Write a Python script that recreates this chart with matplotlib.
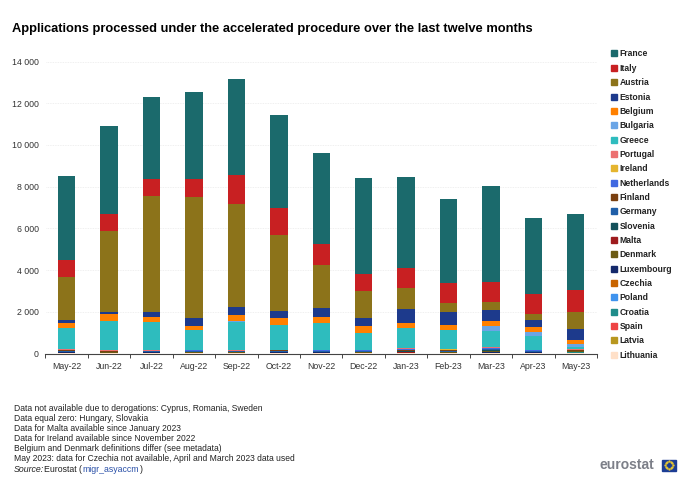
import matplotlib
matplotlib.use('Agg')
import matplotlib.pyplot as plt
import numpy as np
from matplotlib.lines import Line2D
from matplotlib.patches import Rectangle

plt.rcParams['font.family'] = ['Liberation Sans', 'DejaVu Sans']

months = ['May-22', 'Jun-22', 'Jul-22', 'Aug-22', 'Sep-22', 'Oct-22', 'Nov-22',
          'Dec-22', 'Jan-23', 'Feb-23', 'Mar-23', 'Apr-23', 'May-23']

# values, bottom of the stack first
lithuania = [3, 3, 3, 3, 3, 3, 3, 3, 3, 3, 3, 3, 3]
latvia = [3, 3, 3, 3, 3, 3, 3, 3, 3, 3, 3, 3, 40]
spain = [4, 4, 4, 4, 4, 4, 4, 4, 4, 4, 4, 4, 4]
croatia = [4, 4, 4, 4, 4, 4, 4, 4, 4, 4, 4, 4, 4]
poland = [4, 4, 4, 4, 4, 4, 4, 4, 4, 4, 4, 4, 4]
czechia = [6, 6, 6, 6, 6, 6, 6, 6, 6, 6, 6, 6, 6]
luxembourg = [35, 5, 30, 5, 5, 50, 35, 5, 10, 5, 45, 30, 25]
denmark = [10, 30, 5, 30, 30, 5, 5, 30, 10, 30, 35, 5, 15]
malta = [0, 0, 0, 0, 0, 0, 0, 0, 45, 15, 5, 5, 5]
slovenia = [25, 5, 15, 5, 10, 15, 20, 10, 10, 15, 55, 15, 5]
germany = [40, 20, 25, 36, 40, 40, 35, 30, 40, 45, 45, 35, 30]
finland = [21, 16, 16, 20, 11, 16, 16, 11, 16, 11, 11, 11, 9]
netherlands = [30, 30, 15, 35, 15, 20, 25, 50, 50, 45, 30, 30, 15]
ireland = [0, 0, 0, 0, 0, 0, 0, 10, 10, 10, 10, 10, 25]
portugal = [25, 30, 15, 20, 10, 20, 15, 20, 55, 25, 30, 25, 30]
greece = [1010, 1400, 1365, 965, 1385, 1190, 1285, 790, 935, 915, 780, 670, 90]
bulgaria = [10, 10, 10, 10, 10, 10, 10, 10, 10, 10, 230, 160, 150]
belgium = [240, 320, 220, 190, 300, 310, 270, 340, 225, 230, 250, 240, 200]
estonia = [160, 120, 240, 370, 380, 330, 450, 370, 670, 600, 530, 360, 510]
austria = [2020, 3840, 5570, 5790, 4930, 3670, 2060, 1300, 1040, 420, 370, 280, 810]
italy = [850, 850, 800, 850, 1400, 1300, 1000, 800, 950, 1000, 1000, 950, 1070]
france = [4000, 4200, 3950, 4200, 4600, 4450, 4350, 4600, 4350, 4000, 4600, 3650, 3650]

series = [
    ('Lithuania', lithuania, '#FFE0C8'),
    ('Latvia', latvia, '#B8971F'),
    ('Spain', spain, '#EE4444'),
    ('Croatia', croatia, '#1F8C8A'),
    ('Poland', poland, '#3F93EE'),
    ('Czechia', czechia, '#C86400'),
    ('Luxembourg', luxembourg, '#14296B'),
    ('Denmark', denmark, '#6B5A14'),
    ('Malta', malta, '#9E1B1E'),
    ('Slovenia', slovenia, '#13505A'),
    ('Germany', germany, '#1F5FA8'),
    ('Finland', finland, '#7A4010'),
    ('Netherlands', netherlands, '#4169E1'),
    ('Ireland', ireland, '#E5B52F'),
    ('Portugal', portugal, '#EC7070'),
    ('Greece', greece, '#2EBCBE'),
    ('Bulgaria', bulgaria, '#6AA5E6'),
    ('Belgium', belgium, '#FF8000'),
    ('Estonia', estonia, '#1D3A8C'),
    ('Austria', austria, '#8C731A'),
    ('Italy', italy, '#C82022'),
    ('France', france, '#1B6A6C'),
]

notes = [
    'Data not available due to derogations: Cyprus, Romania, Sweden',
    'Data equal zero: Hungary, Slovakia',
    'Data for Malta available since January 2023',
    'Data for Ireland available since November 2022',
    'Belgium and Denmark definitions differ (see metadata)',
    'May 2023: data for Czechia not available, April and March 2023 data used',
]

W, H = 700, 483
fig = plt.figure(figsize=(W / 100, H / 100), dpi=100)
ax = fig.add_axes([45.5 / W, 1 - 353.5 / H, 551.5 / W, 292 / H])

x = np.arange(len(months))
bottom = np.zeros(len(months))
for name, values, color in series:
    ax.bar(x, values, 0.41, bottom=bottom, color=color, zorder=3)
    bottom += np.array(values)

ax.set_xlim(-0.5, len(months) - 0.5)
ax.set_ylim(0, 14000)
ax.set_yticks(np.arange(0, 14001, 2000))
ax.set_yticklabels([f'{v:,}'.replace(',', ' ') for v in range(0, 14001, 2000)],
                   fontsize=6.3, color='#333333')
ax.set_xticks(x)
ax.set_xticklabels(months, fontsize=6.3, color='#333333')
ax.set_xticks(np.arange(-0.5, len(months)), minor=True)
ax.tick_params(axis='x', which='major', length=0, pad=6)
ax.tick_params(axis='x', which='minor', length=3, width=0.7, color='#444444')
ax.tick_params(axis='y', length=0, pad=5)
ax.grid(axis='y', color='#EBEBEB', lw=0.6, ls=(0, (1, 1)), zorder=0)
for s in ['top', 'left', 'right']:
    ax.spines[s].set_visible(False)
ax.spines['bottom'].set_color('#444444')
ax.spines['bottom'].set_linewidth(0.8)

fig.text(12 / W, 1 - 29 / H, 'Applications processed under the accelerated procedure over the last twelve months',
         fontsize=9.3, fontweight='bold', color='black', va='center')

handles = [Line2D([], [], marker='s', ls='', color=c, markersize=3.8) for _, _, c in series[::-1]]
labels = [n for n, _, _ in series[::-1]]
fig.legend(handles, labels, loc='upper left', bbox_to_anchor=(609 / W, 1 - 49.5 / H), frameon=False,
           prop={'size': 6.2, 'weight': 'bold'}, labelcolor='#222222', labelspacing=0.62,
           handletextpad=0.05, borderpad=0, borderaxespad=0, handlelength=1.2)

for i, note in enumerate(notes):
    fig.text(14 / W, 1 - (408.5 + i * 10) / H, note, fontsize=6.15, color='#222222', va='center')

# source line, pieces placed one after the other
fig.text(14 / W, 1 - 469.5 / H, 'Source:', fontsize=6.3, style='italic', color='#222222', va='center')
renderer = fig.canvas.get_renderer()
pos = 44
for piece, col in [('Eurostat (', '#222222'), ('migr_asyaccm', '#2A50A8'), (')', '#222222')]:
    t = fig.text(pos / W, 1 - 469.5 / H, piece, fontsize=6.3, color=col, va='center')
    pos = t.get_window_extent(renderer).x1 + 1

# logo
fig.text(600 / W, 1 - 465 / H, 'eurostat', fontsize=10, fontweight='bold', color='#7C7F88', va='center')
fig.add_artist(Rectangle((662 / W, 1 - 470.5 / H), 14 / W, 11 / H, color='#1C3D94', transform=fig.transFigure))
ang = np.arange(12) * np.pi / 6
fig.add_artist(Line2D((669 + 3.6 * np.cos(ang)) / W, 1 - (465 + 3.6 * np.sin(ang)) / H, ls='', marker='o',
                      markersize=0.7, color='#E8C830', transform=fig.transFigure))

fig.savefig('out.png', dpi=100)
